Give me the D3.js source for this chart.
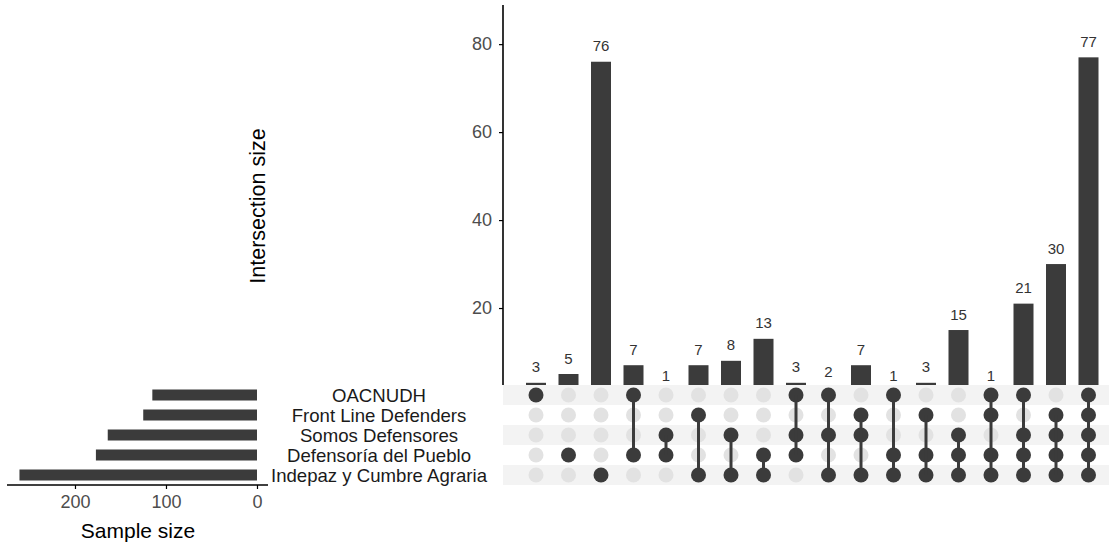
<!DOCTYPE html>
<html>
<head>
<meta charset="utf-8">
<script src="https://cdn.jsdelivr.net/npm/d3@7"></script>
<style>
  body { margin: 0; background: #fff; }
  svg { font-family: "Liberation Sans", Arial, sans-serif; }
</style>
</head>
<body>
<svg id="chart" width="1111" height="546"></svg>
<script>
// sets, top row to bottom row
const sets = ['OACNUDH', 'Front Line Defenders', 'Somos Defensores', 'Defensoría del Pueblo', 'Indepaz y Cumbre Agraria'];
const setSizes = [115, 125, 164, 177, 261];

// intersections, left to right (indices into sets)
const counts = [3, 5, 76, 7, 1, 7, 8, 13, 3, 2, 7, 1, 3, 15, 1, 21, 30, 77];
const members = [
  [0], [3], [4], [0, 3], [2, 3], [1, 4], [2, 4], [3, 4],
  [0, 2, 3], [0, 2, 4], [1, 2, 4], [0, 3, 4], [1, 3, 4], [2, 3, 4],
  [0, 1, 3, 4], [0, 2, 3, 4], [1, 2, 3, 4], [0, 1, 2, 3, 4]
];
const yTicks = [0, 20, 40, 60, 80];
const xTicks = [0, 100, 200];

const dark = '#3b3b3b';
const svg = d3.select('#chart');

// column + row scales
const x = d3.scaleBand().domain(d3.range(counts.length)).range([509.75, 1114.75]).paddingInner(0.3846).paddingOuter(0.5);
const row = d3.scaleBand().domain(d3.range(sets.length)).range([385, 485]);

// ---- intersection size bars
const y = d3.scaleLinear().domain([0, 88.9]).range([396, 5]);
const topG = svg.append('g');

topG.selectAll('.bar')
  .data(counts)
  .enter()
  .append('rect')
  .attr('class', 'bar')
  .attr('x', (d, i) => x(i))
  .attr('y', d => y(d))
  .attr('width', x.bandwidth())
  .attr('height', d => y(0) - y(d))
  .style('fill', dark);

topG.selectAll('.lbl')
  .data(counts)
  .enter()
  .append('text')
  .attr('class', 'lbl')
  .attr('x', (d, i) => x(i) + x.bandwidth() / 2)
  .attr('y', d => y(d) - 10.5)
  .attr('text-anchor', 'middle')
  .style('font-size', '15px')
  .style('fill', '#333')
  .text(d => d);

const yAxis = topG.append('g')
  .attr('transform', 'translate(503,0)')
  .call(d3.axisLeft(y).tickValues(yTicks).tickSize(4).tickPadding(7));
yAxis.select('.domain').attr('d', 'M0,5V396').attr('stroke', '#000').attr('stroke-width', 1.6);
yAxis.selectAll('.tick line').attr('stroke', '#000').attr('stroke-width', 1.2);
yAxis.selectAll('.tick text').style('font-size', '18px').style('fill', '#4d4d4d').attr('font-family', null);

svg.append('text')
  .attr('transform', 'translate(265,206) rotate(-90)')
  .attr('text-anchor', 'middle')
  .style('font-size', '21.5px')
  .text('Intersection size');

// bottom panel covers the lower end of the bars
svg.append('rect').attr('x', 0).attr('y', 385).attr('width', 1111).attr('height', 161).style('fill', '#fff');

// ---- matrix
const mat = svg.append('g');
mat.selectAll('.stripe')
  .data(sets)
  .enter()
  .append('rect')
  .attr('x', 503)
  .attr('y', (d, i) => row(i))
  .attr('width', 606)
  .attr('height', row.bandwidth())
  .style('fill', (d, i) => i % 2 === 0 ? '#f3f3f3' : '#fff');

const cy = i => row(i) + row.bandwidth() / 2;
const cx = i => x(i) + x.bandwidth() / 2;

counts.forEach((c, j) => {
  const col = mat.append('g');
  col.selectAll('circle')
    .data(sets.map((s, i) => i))
    .enter()
    .append('circle')
    .attr('cx', cx(j))
    .attr('cy', i => cy(i))
    .attr('r', 7.5)
    .style('fill', i => members[j].includes(i) ? dark : '#e2e2e2');
  const m = members[j];
  if (m.length > 1) {
    col.append('line')
      .attr('x1', cx(j)).attr('x2', cx(j))
      .attr('y1', cy(d3.min(m))).attr('y2', cy(d3.max(m)))
      .attr('stroke', dark).attr('stroke-width', 3);
  }
});

// set labels
svg.selectAll('.setlbl')
  .data(sets)
  .enter()
  .append('text')
  .attr('class', 'setlbl')
  .attr('x', 379)
  .attr('y', (d, i) => cy(i))
  .attr('dy', '0.35em')
  .attr('text-anchor', 'middle')
  .style('font-size', '18.6px')
  .style('fill', '#1a1a1a')
  .text(d => d);

// ---- set size bars
const xs = d3.scaleLinear().domain([-12.1, 274.7]).range([268, 7]);
const left = svg.append('g');
left.selectAll('rect')
  .data(setSizes)
  .enter()
  .append('rect')
  .attr('x', d => xs(d))
  .attr('y', (d, i) => cy(i) - 5.5)
  .attr('width', d => xs(0) - xs(d))
  .attr('height', 11)
  .style('fill', dark);

const xAxis = left.append('g')
  .attr('transform', 'translate(0,485)')
  .call(d3.axisBottom(xs).tickValues(xTicks).tickSize(4).tickPadding(6));
xAxis.select('.domain').attr('d', 'M7,0H268').attr('stroke', '#000').attr('stroke-width', 1.6);
xAxis.selectAll('.tick line').attr('stroke', '#000').attr('stroke-width', 1.2);
xAxis.selectAll('.tick text').style('font-size', '18px').style('fill', '#4d4d4d').attr('font-family', null);

svg.append('text')
  .attr('x', 138)
  .attr('y', 538)
  .attr('text-anchor', 'middle')
  .style('font-size', '21px')
  .text('Sample size');
</script>
</body>
</html>
